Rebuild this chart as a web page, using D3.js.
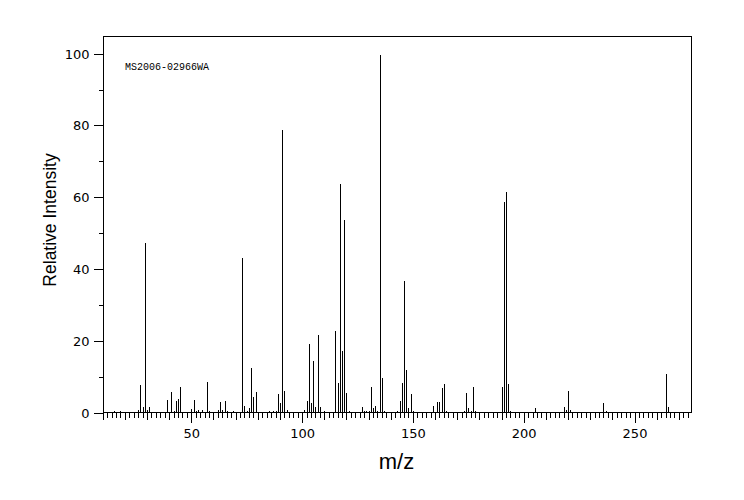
<!DOCTYPE html>
<html>
<head>
<meta charset="utf-8">
<script src="https://cdn.jsdelivr.net/npm/d3@7"></script>
<style>
  html, body { margin: 0; padding: 0; background: #fff; }
  svg { display: block; }
  .tick text { font-family: "DejaVu Sans", sans-serif; font-size: 13px; fill: #000; }
  .tick line { stroke: #000; }
</style>
</head>
<body>
<svg id="chart" width="744" height="500"></svg>
<script>
const mzValues = [12,14,15,16,17,18,19,25,26,27,28,29,30,31,32,35,36,37,38,39,40,41,42,43,44,45,46,49,50,51,52,53,54,55,56,57,58,59,61,62,63,64,65,66,67,68,69,71,73,74,75,76,77,78,79,80,81,82,83,85,86,87,88,89,90,91,92,93,94,95,97,98,99,101,102,103,104,105,106,107,108,109,110,111,113,114,115,116,117,118,119,120,121,122,123,125,126,127,128,129,130,131,132,133,134,135,136,137,139,140,141,142,143,144,145,146,147,148,149,150,151,153,156,158,159,160,161,162,163,164,165,166,171,172,173,174,175,176,177,178,179,189,190,191,192,193,194,195,203,205,206,207,218,219,220,221,222,235,236,237,238,249,264,265,266,267,268];
const intensities = [0.3,0.4,0.6,0.3,0.4,0.8,0.3,0.3,1.0,7.9,1.9,47.5,1.0,1.7,0.3,0.2,0.4,0.3,0.3,3.9,0.5,6.1,0.8,3.4,4.1,7.5,0.5,0.3,1.3,3.9,0.8,0.9,0.4,1.0,0.3,8.7,0.8,0.4,0.3,1.0,3.1,1.0,3.6,0.8,0.5,0.5,0.8,0.5,43.3,2.0,0.8,1.4,12.8,4.5,6.1,0.5,0.3,0.3,0.3,0.6,0.4,0.6,0.6,5.3,2.8,79.1,6.4,1.1,0.5,0.3,0.3,0.3,0.3,1.0,3.6,19.5,2.8,14.5,1.7,22.0,1.7,0.5,0.8,0.3,0.3,0.3,23.1,8.4,64.1,17.5,53.8,5.6,0.6,0.3,0.3,0.3,0.3,1.9,0.8,0.8,0.8,7.5,1.4,2.0,0.6,100,10.0,0.8,0.3,0.3,0.3,0.3,0.6,3.6,8.4,37.0,12.0,1.4,5.3,0.6,0.3,0.3,0.3,0.3,2.0,0.3,3.1,3.1,7.2,8.1,0.8,0.3,0.3,0.3,0.6,5.8,1.4,0.6,7.5,0.8,0.3,0.3,7.5,59.0,61.8,8.1,0.8,0.3,0.3,1.4,0.3,0.3,1.9,1.1,6.4,1.1,0.3,0.3,2.8,0.6,0.3,0.3,10.9,1.9,0.3,0.3,0.3];
const xMajorTicks = [50,100,150,200,250];
const xMidTicks = [10,20,30,40,60,70,80,90,110,120,130,140,160,170,180,190,210,220,230,240,260,270];
const xMinorTicks = d3.range(12, 275, 2).filter(v => v % 10 !== 0);
const yMajorTicks = [0,20,40,60,80,100];
const yMinorTicks = [10,30,50,70,90];
const xTitle = "m/z";
const yTitle = "Relative Intensity";
const sampleId = "MS2006-02966WA";

const L = 103.5, R = 691.5, T = 36.5, B = 412.5;
const svg = d3.select("#chart");

const x = d3.scaleLinear().domain([10.38, 275.72]).range([L, R]);
const y = d3.scaleLinear().domain([0, 104.8]).range([B, T]);

// peaks
svg.append("g")
  .selectAll("line")
  .data(mzValues.map((m, i) => ({m, v: intensities[i]})))
  .join("line")
  .attr("x1", d => Math.round(x(d.m)) + 0.5)
  .attr("x2", d => Math.round(x(d.m)) + 0.5)
  .attr("y1", B)
  .attr("y2", d => Math.round(y(d.v)) + 0.5)
  .attr("stroke", "#000")
  .attr("stroke-width", 1)
  .attr("shape-rendering", "crispEdges");

// x axis ticks
function xAxis(vals, size, labels) {
  const ax = d3.axisBottom(x).tickValues(vals).tickSize(size).tickPadding(4);
  if (!labels) ax.tickFormat("");
  const g = svg.append("g").attr("transform", `translate(0,${B})`).call(ax);
  g.select(".domain").remove();
  g.selectAll(".tick line").attr("shape-rendering", "crispEdges");
  return g;
}
xAxis(xMinorTicks, 5, false);
xAxis(xMidTicks, 7, false);
const gx = xAxis(xMajorTicks, 10.5, true);
gx.selectAll(".tick text").attr("dy", null).attr("y", 25.5);

// y axis ticks
function yAxis(vals, size, labels) {
  const ax = d3.axisLeft(y).tickValues(vals).tickSize(size).tickPadding(4);
  if (!labels) ax.tickFormat("");
  const g = svg.append("g").attr("transform", `translate(${L},0)`).call(ax);
  g.select(".domain").remove();
  g.selectAll(".tick line").attr("shape-rendering", "crispEdges");
  return g;
}
yAxis(yMinorTicks, 4.7, false);
const gy = yAxis(yMajorTicks, 9.5, true);
gy.selectAll(".tick text").attr("dy", null).attr("y", 4.5).attr("x", -14);

// frame
svg.append("rect")
  .attr("x", L).attr("y", T).attr("width", R - L).attr("height", B - T)
  .attr("fill", "none").attr("stroke", "#000").attr("stroke-width", 1)
  .attr("shape-rendering", "crispEdges");

// titles
svg.append("text")
  .attr("x", 396.5).attr("y", 469)
  .attr("text-anchor", "middle")
  .attr("font-family", "Liberation Sans, Arial, sans-serif")
  .attr("font-size", 22)
  .text(xTitle);

svg.append("text")
  .attr("transform", "translate(56,220) rotate(-90)")
  .attr("text-anchor", "middle")
  .attr("font-family", "Liberation Sans, Arial, sans-serif")
  .attr("font-size", 17.5)
  .text(yTitle);

svg.append("text")
  .attr("x", 125).attr("y", 70)
  .attr("font-family", "Liberation Mono, DejaVu Sans Mono, monospace")
  .attr("font-size", 10)
  .text(sampleId);
</script>
</body>
</html>
